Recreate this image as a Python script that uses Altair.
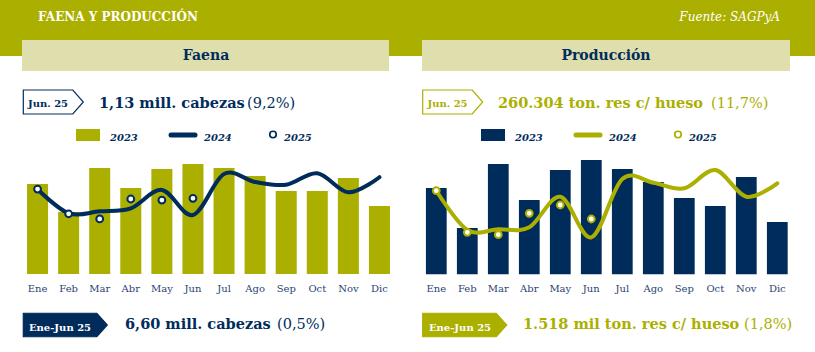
import altair as alt
import pandas as pd

# ---------------- data ----------------
months = ["Ene", "Feb", "Mar", "Abr", "May", "Jun", "Jul", "Ago", "Sep", "Oct", "Nov", "Dic"]

# Faena (millones de cabezas)
faena_2023 = [1.214, 1.051, 1.308, 1.191, 1.302, 1.331, 1.308, 1.261, 1.174, 1.174, 1.249, 1.086]
faena_2024 = [1.184, 1.044, 1.055, 1.073, 1.180, 1.034, 1.273, 1.226, 1.210, 1.277, 1.166, 1.254]
faena_2025 = [1.185, 1.041, 1.011, 1.127, 1.121, 1.131]

# Producción (miles de ton res c/ hueso)
prod_2023 = [291.3, 251.3, 315.3, 279.3, 309.3, 319.3, 310.3, 297.3, 281.3, 273.3, 302.3, 257.3]
prod_2024 = [288.6, 249.3, 250.0, 252.0, 282.6, 242.0, 300.3, 296.6, 291.0, 309.3, 282.6, 296.0]
prod_2025 = [288.6, 247.0, 244.6, 266.0, 274.3, 260.3]

legend_years = ["2023", "2024", "2025"]

# ---------------- style ----------------
OLIVE = "#ABAF00"
NAVY = "#002C5B"
BEIGE = "#DFDFAD"
LABEL = "#2A4372"
SERIF = "DejaVu Serif"

one = pd.DataFrame({"k": [0]})
base = alt.Chart(one)


def box(x1, x2, y1, y2, color):
    return base.mark_rect(color=color).encode(
        x=alt.value(x1), x2=alt.value(x2), y=alt.value(y1), y2=alt.value(y2)
    )


def label(txt, x, y, size, color, weight="normal", style="normal", align="left"):
    return base.mark_text(
        text=txt, align=align, baseline="alphabetic", fontSize=size,
        fontWeight=weight, fontStyle=style, color=color, font=SERIF
    ).encode(x=alt.value(x), y=alt.value(y))


def badge(x_left, cy, w, h, tip, fill, stroke):
    hw = w / 2.0
    xr = -1 + (w - tip) / hw
    hh = (h / 2.0) / hw
    path = f"M-1,{-hh:.4f}L{xr:.4f},{-hh:.4f}L1,0L{xr:.4f},{hh:.4f}L-1,{hh:.4f}Z"
    return base.mark_point(
        shape=path, size=w * w, filled=True, fill=fill, stroke=stroke,
        strokeWidth=1.2, opacity=1
    ).encode(x=alt.value(x_left + hw), y=alt.value(cy))


def legend(x0, bar_color, line_color):
    return [
        box(x0, x0 + 24, 129, 141, bar_color),
        label(legend_years[0], x0 + 34, 141, 10, NAVY, "bold", "italic"),
        base.mark_rule(color=line_color, strokeWidth=5, strokeCap="round").encode(
            x=alt.value(x0 + 95), x2=alt.value(x0 + 119), y=alt.value(135)
        ),
        label(legend_years[1], x0 + 128, 141, 10, NAVY, "bold", "italic"),
        base.mark_point(filled=True, fill="white", stroke=line_color, strokeWidth=1.7,
                        size=42, opacity=1).encode(x=alt.value(x0 + 197), y=alt.value(134.5)),
        label(legend_years[2], x0 + 208, 141, 10, NAVY, "bold", "italic"),
    ]


def panel(v23, v24, v25, x_range, pad_in, y_dom, y_range, bar_color, line_color):
    df = pd.DataFrame({"mes": months, "y2023": v23, "y2024": v24})
    df25 = pd.DataFrame({"mes": months[:len(v25)], "y2025": v25})
    xs = alt.Scale(domain=months, range=x_range, paddingInner=pad_in, paddingOuter=pad_in / 2)
    ys = alt.Scale(domain=y_dom, range=y_range, zero=False, nice=False)
    X = alt.X("mes:N", scale=xs, axis=None, sort=months)
    bars = alt.Chart(df).mark_bar(color=bar_color).encode(
        x=X, y=alt.Y("y2023:Q", scale=ys, axis=None), y2=alt.datum(y_dom[0])
    )
    line = alt.Chart(df).mark_line(
        color=line_color, strokeWidth=4, interpolate="cardinal", strokeCap="round"
    ).encode(x=X, y=alt.Y("y2024:Q", scale=ys, axis=None))
    pts = alt.Chart(df25).mark_point(
        filled=True, fill="white", stroke=line_color, strokeWidth=2, size=46, opacity=1
    ).encode(x=X, y=alt.Y("y2025:Q", scale=ys, axis=None))
    labs = alt.Chart(df).mark_text(
        font=SERIF, fontSize=10, color=LABEL, baseline="alphabetic"
    ).encode(x=X, y=alt.value(292), text="mes:N")
    return alt.layer(bars, line, pts, labs)


decor = [
    box(0, 815, 0, 56, OLIVE),
    label("FAENA Y PRODUCCIÓN", 38, 21, 12, "white", "bold"),
    label("Fuente: SAGPyA", 780, 21, 12, "white", "normal", "italic", "right"),
    box(22, 389, 40, 71, BEIGE),
    box(422, 790, 40, 71, BEIGE),
    label("Faena", 206, 60, 14, NAVY, "bold", align="center"),
    label("Producción", 606, 60, 14, NAVY, "bold", align="center"),
    # top annotations
    badge(23.3, 102, 60, 24, 10.5, "white", NAVY),
    label("Jun. 25", 48, 106.5, 10, NAVY, "bold", align="center"),
    label("1,13 mill. cabezas", 99, 107.5, 14.5, NAVY, "bold"),
    label("(9,2%)", 247, 107.5, 14.5, NAVY),
    badge(422.7, 102, 60, 24, 10.5, "white", OLIVE),
    label("Jun. 25", 447.5, 106.5, 10, OLIVE, "bold", align="center"),
    label("260.304 ton. res c/ hueso", 498, 107.5, 14.5, OLIVE, "bold"),
    label("(11,7%)", 711, 107.5, 14.5, OLIVE),
    # bottom annotations
    badge(23.3, 325, 84, 23.5, 10.5, NAVY, NAVY),
    label("Ene-Jun 25", 60, 330.5, 10, "white", "bold", align="center"),
    label("6,60 mill. cabezas", 125, 328.5, 14.5, NAVY, "bold"),
    label("(0,5%)", 277, 328.5, 14.5, NAVY),
    badge(422.7, 325, 84, 23.5, 10.5, OLIVE, OLIVE),
    label("Ene-Jun 25", 460, 330.5, 10, "white", "bold", align="center"),
    label("1.518 mil ton. res c/ hueso", 523, 328.5, 14.5, OLIVE, "bold"),
    label("(1,8%)", 744, 328.5, 14.5, OLIVE),
]
decor += legend(76, OLIVE, NAVY)
decor += legend(481, NAVY, OLIVE)

left = panel(faena_2023, faena_2024, faena_2025, [22, 395], 0.324,
             [0.69, 1.39], [274, 153.88], OLIVE, NAVY)
right = panel(prod_2023, prod_2024, prod_2025, [420.8, 792.8], 0.33,
              [205, 325], [274.3, 154.3], NAVY, OLIVE)

chart = alt.layer(*decor, left, right).resolve_scale(
    x="independent", y="independent"
).properties(
    width=815, height=352, padding=0,
    autosize=alt.AutoSizeParams(type="none"), background="white"
).configure_view(stroke=None)

chart.save("out.html", embed_options={"renderer": "svg", "actions": False})
